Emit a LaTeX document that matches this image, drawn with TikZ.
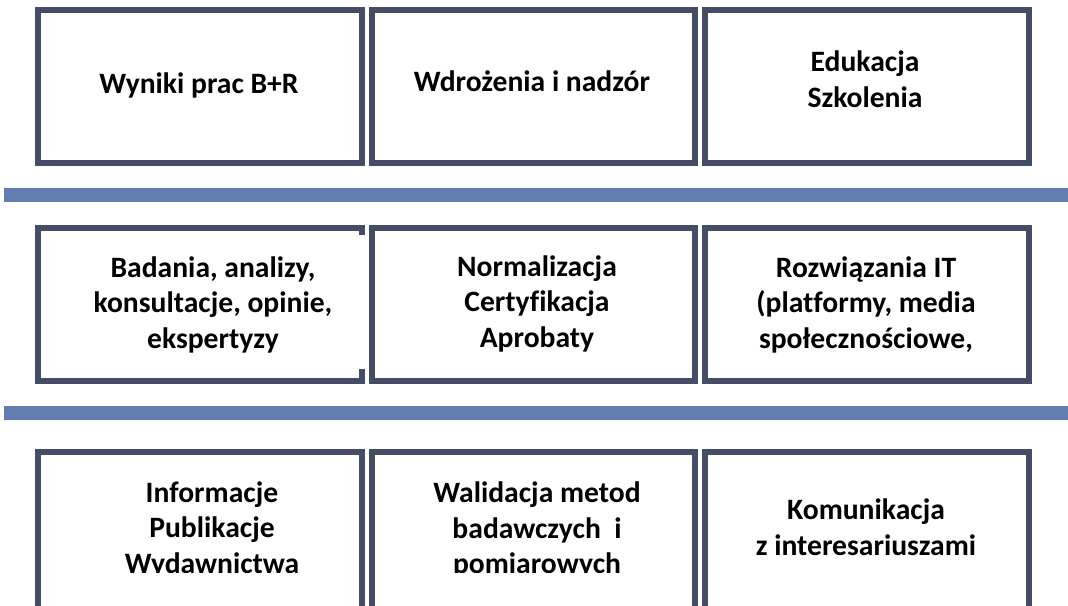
\documentclass[tikz,border=0pt]{standalone}
\usepackage{fontspec}
\setmainfont{Carlito}[Ligatures=NoCommon]
\usetikzlibrary{calc}
\definecolor{boxline}{RGB}{69,77,102}
\definecolor{barcol}{RGB}{98,123,177}
\begin{document}
\begin{tikzpicture}[x=1pt,y=-1pt,
  cell/.style={draw=boxline, line width=6pt, rectangle, minimum height=153pt, inner sep=0pt, outer sep=0pt, anchor=north west},
  cellopen/.style={draw=none, rectangle, minimum height=153pt, inner sep=0pt, outer sep=0pt, anchor=north west},
  txt/.style={font=\bfseries\fontsize{29.6}{35.5}\selectfont, align=center, anchor=base, inner sep=0pt, outer sep=0pt, text=black},
  band/.style={fill=barcol, draw=none}]
\useasboundingbox (0,0) rectangle (1068,605);
\clip (0,0) rectangle (1068,605);
\fill[white] (0,0) rectangle (1068,605);
% bands
\path[band] (4,188) rectangle (1068,202);
\path[band] (4,406) rectangle (1068,420);
% top row
\node[cell, minimum width=324pt] (b11) at (38,10) {};
\node[cell, minimum width=323pt] (b12) at (372,10) {};
\node[cell, minimum width=324pt] (b13) at (705,10) {};
\node[txt] (t11) at (199,93) {Wyniki prac B+R};
\node[txt] (t12) at (532,91) {Wdrożenia i nadzór};
\node[txt] (t13) at (865,107) {Edukacja\\Szkolenia};
% middle row
\node[cellopen, minimum width=324pt] (b21) at (38,228) {};
\draw[boxline, line width=6pt] ($(b21.north east)+(0,7)$) -- (b21.north east) -- (b21.north west) -- (b21.south west) -- (b21.south east) -- ($(b21.south east)+(0,-12)$);
\node[cell, minimum width=323pt] (b22) at (372,228) {};
\node[cell, minimum width=324pt] (b23) at (705,228) {};
\node[txt] (t21) at (213,348) {Badania, analizy,\\konsultacje, opinie,\\ekspertyzy};
\node[txt] (t22) at (537,347) {Normalizacja\\Certyfikacja\\Aprobaty};
\node[txt] (t23) at (866,348) {Rozwiązania IT\\(platformy, media\\społecznościowe,};
% bottom row
\node[cell, minimum width=324pt, minimum height=200pt] (b31) at (38,452) {};
\node[cell, minimum width=323pt, minimum height=200pt] (b32) at (372,452) {};
\node[cell, minimum width=324pt, minimum height=200pt] (b33) at (705,452) {};
\begin{scope}
\clip (0,0) rectangle (1068,572.5);
\node[txt] (t31) at (212,573) {Informacje\\Publikacje\\Wydawnictwa};
\node[txt] (t32) at (537,573.5) {Walidacja metod\\badawczych\ \ i\\pomiarowych};
\node[txt] (t33) at (866,555) {Komunikacja\\z interesariuszami};
\end{scope}
\end{tikzpicture}
\end{document}
